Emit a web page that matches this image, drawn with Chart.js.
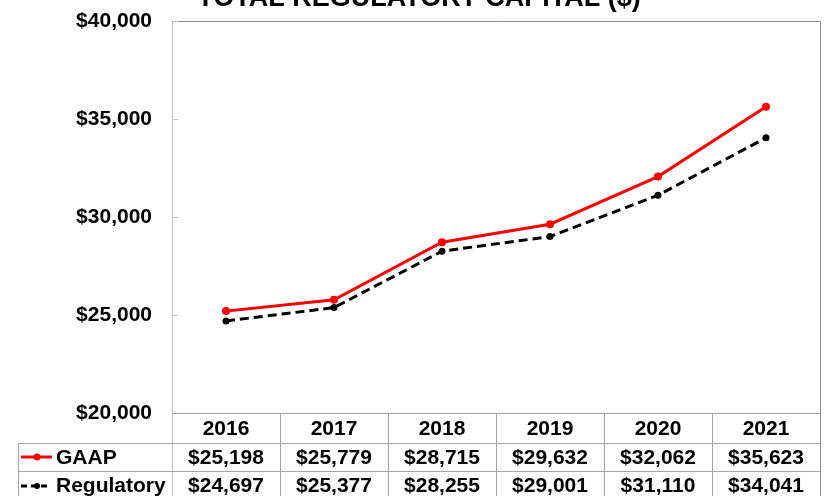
<!DOCTYPE html>
<html>
<head>
<meta charset="utf-8">
<title>Total Regulatory Capital</title>
<script src="https://cdn.jsdelivr.net/npm/chart.js@4/dist/chart.umd.min.js"></script>
<style>
  html, body { margin: 0; padding: 0; background: #fff; overflow: hidden; }
  #wrap { position: relative; width: 827px; height: 496px; }
</style>
</head>
<body>
<div id="wrap"><canvas id="chart-canvas"></canvas></div>
<script>
const title = "TOTAL REGULATORY CAPITAL ($)";
const years = ["2016", "2017", "2018", "2019", "2020", "2021"];
const gaap = [25198, 25779, 28715, 29632, 32062, 35623];
const regulatory = [24697, 25377, 28255, 29001, 31110, 34041];
const yMin = 20000;
const yMax = 40000;
const yStep = 5000;

const FONT = "'Liberation Sans', Arial, sans-serif";

function money(v) {
  return "$" + v.toLocaleString("en-US");
}

// draws the title, plot frame, tick marks and the data table under the plot
const tablePlugin = {
  id: "dataTable",
  afterDraw(chart) {
    const ctx = chart.ctx;
    const area = chart.chartArea;
    const x = chart.scales.x;
    const y = chart.scales.y;
    const slot = x.width / years.length;
    const rowH = [30, 28, 28];
    const tableLeft = 18;
    const bottom = chart.height;

    ctx.save();

    // title, mostly above the top edge like the reference
    ctx.fillStyle = "#000";
    ctx.font = "bold 27px " + FONT;
    ctx.textAlign = "center";
    ctx.textBaseline = "alphabetic";
    ctx.fillText(title, 419, 6);

    // plot frame
    ctx.lineWidth = 1;
    ctx.strokeStyle = "#8c8c8c";
    ctx.beginPath();
    ctx.moveTo(area.left, area.top + 0.5);
    ctx.lineTo(area.right + 0.5, area.top + 0.5);
    ctx.lineTo(area.right + 0.5, bottom);
    ctx.stroke();
    ctx.strokeStyle = "#c0c0c0";
    ctx.beginPath();
    ctx.moveTo(area.left + 0.5, area.top);
    ctx.lineTo(area.left + 0.5, bottom);
    ctx.stroke();

    // small tick marks pointing into the plot
    y.ticks.forEach(function (t) {
      let py = Math.round(y.getPixelForValue(t.value)) + 0.5;
      ctx.beginPath();
      ctx.moveTo(area.left, py);
      ctx.lineTo(area.left + 6, py);
      ctx.stroke();
    });

    // table grid
    let r0 = area.bottom;
    let r1 = r0 + rowH[0];
    let r2 = r1 + rowH[1];
    ctx.strokeStyle = "#a6a6a6";
    ctx.beginPath();
    ctx.moveTo(area.left, r0 + 0.5);
    ctx.lineTo(area.right, r0 + 0.5);
    ctx.moveTo(tableLeft, r1 + 0.5);
    ctx.lineTo(area.right, r1 + 0.5);
    ctx.moveTo(tableLeft, r2 + 0.5);
    ctx.lineTo(area.right, r2 + 0.5);
    ctx.moveTo(tableLeft + 0.5, r1);
    ctx.lineTo(tableLeft + 0.5, bottom);
    for (let i = 1; i < years.length; i++) {
      let bx = Math.round(area.left + i * slot) + 0.5;
      ctx.moveTo(bx, r0);
      ctx.lineTo(bx, bottom);
    }
    ctx.stroke();

    // table text
    ctx.fillStyle = "#000";
    ctx.font = "bold 21px " + FONT;
    ctx.textBaseline = "middle";
    ctx.textAlign = "center";
    years.forEach(function (yr, i) {
      let cx = x.getPixelForValue(i);
      ctx.fillText(yr, cx, r0 + 16);
      ctx.fillText(money(gaap[i]), cx, r1 + 15);
      ctx.fillText(money(regulatory[i]), cx, r2 + 15);
    });

    // legend keys in the row headers
    ctx.textAlign = "left";
    ctx.fillText("GAAP", 56, r1 + 15);
    ctx.fillText("Regulatory", 56, r2 + 15);

    ctx.lineWidth = 3;
    ctx.strokeStyle = "#ff0000";
    ctx.fillStyle = "#ff0000";
    ctx.beginPath();
    ctx.moveTo(21, r1 + 14);
    ctx.lineTo(52, r1 + 14);
    ctx.stroke();
    ctx.beginPath();
    ctx.arc(37, r1 + 14, 3.5, 0, Math.PI * 2);
    ctx.fill();

    ctx.strokeStyle = "#000";
    ctx.fillStyle = "#000";
    ctx.setLineDash([6, 4]);
    ctx.beginPath();
    ctx.moveTo(21, r2 + 15);
    ctx.lineTo(51, r2 + 15);
    ctx.stroke();
    ctx.setLineDash([]);
    ctx.beginPath();
    ctx.arc(37, r2 + 15, 3, 0, Math.PI * 2);
    ctx.fill();

    ctx.restore();
  },
};

const ctx = document.getElementById("chart-canvas");

new Chart(ctx, {
  type: "line",
  data: {
    labels: years,
    datasets: [
      {
        label: "GAAP",
        data: gaap,
        borderColor: "#ff0000",
        backgroundColor: "#ff0000",
        borderWidth: 3,
        pointRadius: 4,
        pointBorderWidth: 0,
        tension: 0,
      },
      {
        label: "Regulatory",
        data: regulatory,
        borderColor: "#000000",
        backgroundColor: "#000000",
        borderWidth: 3,
        borderDash: [9, 5],
        pointRadius: 3.5,
        pointBorderWidth: 0,
        tension: 0,
      },
    ],
  },
  options: {
    responsive: true,
    maintainAspectRatio: false,
    animation: false,
    layout: {
      padding: { top: 21, right: 7, bottom: 83, left: 0 },
    },
    plugins: {
      legend: { display: false },
      title: { display: false },
      tooltip: { enabled: false },
    },
    scales: {
      x: {
        display: false,
        offset: true,
      },
      y: {
        min: yMin,
        max: yMax,
        afterFit: function (scale) {
          scale.width = 172;
          // the top label may overhang the plot, as in the reference
          scale.paddingTop = 0;
          scale.paddingBottom = 0;
        },
        border: { display: false },
        grid: { display: false, drawTicks: false },
        ticks: {
          stepSize: yStep,
          padding: 20,
          color: "#000",
          font: { family: FONT, size: 21, weight: "bold" },
          callback: function (value) {
            return money(value);
          },
        },
      },
    },
  },
  plugins: [tablePlugin],
});
</script>
</body>
</html>
